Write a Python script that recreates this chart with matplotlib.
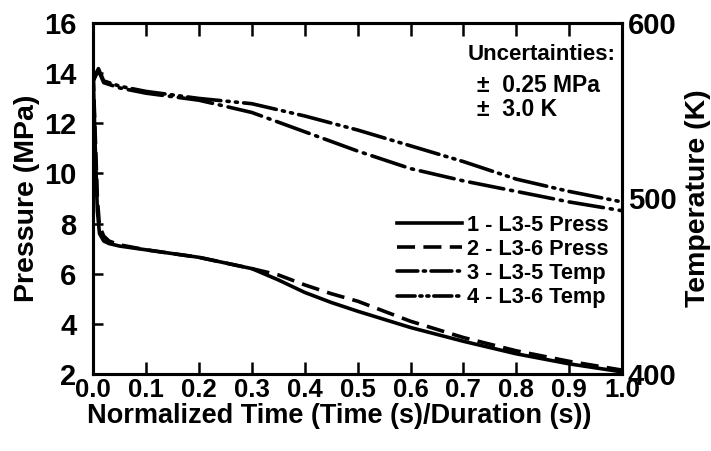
import matplotlib
matplotlib.use("Agg")
import matplotlib.pyplot as plt
from matplotlib.lines import Line2D

# ---- data ----
t_press = [0.0, 0.004, 0.008, 0.012, 0.02, 0.03, 0.05, 0.1, 0.2, 0.3,
           0.35, 0.4, 0.45, 0.5, 0.6, 0.7, 0.8, 0.9, 1.0]
press_l35 = [14.0, 11.0, 8.5, 7.6, 7.3, 7.2, 7.1, 6.95, 6.65, 6.2,
             5.75, 5.25, 4.85, 4.5, 3.85, 3.3, 2.8, 2.4, 2.08]
press_l36 = [14.0, 11.5, 9.0, 7.9, 7.5, 7.3, 7.15, 6.95, 6.65, 6.2,
             5.95, 5.55, 5.2, 4.9, 4.1, 3.45, 2.92, 2.5, 2.15]

t_temp = [0.0, 0.005, 0.01, 0.02, 0.05, 0.1, 0.2, 0.3, 0.4, 0.5,
          0.6, 0.7, 0.8, 0.9, 1.0]
temp_l35 = [567, 570, 573, 566, 563, 560, 556, 549, 538, 527,
            517, 510, 504, 498, 493]
temp_l36 = [567, 571, 574, 567, 564, 561, 557, 554, 547, 539,
            530, 521, 511, 504, 498]

x_ticks = [0.0, 0.1, 0.2, 0.3, 0.4, 0.5, 0.6, 0.7, 0.8, 0.9, 1.0]
p_ticks = [2, 4, 6, 8, 10, 12, 14, 16]
t_ticks = [400, 500, 600]

labels = ["1 - L3-5 Press", "2 - L3-6 Press", "3 - L3-5 Temp", "4 - L3-6 Temp"]

# ---- style ----
plt.rcParams['font.family'] = ['Liberation Sans', 'DejaVu Sans']
plt.rcParams['font.weight'] = 'bold'
plt.rcParams['lines.scale_dashes'] = False

fig = plt.figure(figsize=(7.11, 4.51), dpi=100)
ax = fig.add_axes([0.131, 0.171, 0.744, 0.778])
ax2 = ax.twinx()

lw = 2.6
d_dash = (13, 6)
d_dashdot = (25, 5, 1.5, 5)
d_dashdotdot = (24, 4.5, 1.5, 4.5, 1.5, 4.5)

ax.plot(t_press, press_l35, color='black', lw=lw, solid_capstyle='round')
ax.plot(t_press, press_l36, color='black', lw=lw, dashes=d_dash)
ax2.plot(t_temp, temp_l35, color='black', lw=lw, dashes=d_dashdot,
         dash_capstyle='round')
ax2.plot(t_temp, temp_l36, color='black', lw=lw, dashes=d_dashdotdot,
         dash_capstyle='round')

ax.set_xlim(0, 1.0)
ax.set_ylim(2, 16)
ax2.set_ylim(400, 600)

ax.set_xticks(x_ticks)
ax.set_xticklabels([f"{v:.1f}" for v in x_ticks])
ax.set_yticks(p_ticks)
ax2.set_yticks(t_ticks)

for a in (ax, ax2):
    for s in a.spines.values():
        s.set_linewidth(2.2)

ax.tick_params(axis='x', direction='in', length=9, width=1.8, top=True,
               labelsize=18.5, pad=3)
ax.tick_params(axis='y', direction='in', length=7, width=1.8, labelsize=21, pad=12)
ax2.tick_params(axis='y', direction='in', length=0, labelsize=21, pad=4)

ax.set_xlabel("Normalized Time (Time (s)/Duration (s))", fontsize=19.5,
              fontweight='bold')
ax.xaxis.set_label_coords(0.465, -0.082)
ax.set_ylabel("Pressure (MPa)", fontsize=20.5, fontweight='bold', labelpad=3)
ax2.set_ylabel("Temperature (K)", fontsize=20.5, fontweight='bold', labelpad=6)

# legend (manual, frameless)
handles = [
    Line2D([], [], color='black', lw=lw),
    Line2D([], [], color='black', lw=lw, dashes=(13, 6)),
    Line2D([], [], color='black', lw=lw, dashes=(15, 4, 1.5, 4), dash_capstyle='round'),
    Line2D([], [], color='black', lw=lw, dashes=(13, 3.5, 1.5, 3.5, 1.5, 3.5),
           dash_capstyle='round'),
]
leg = ax.legend(handles, labels, loc='upper left', bbox_to_anchor=(0.558, 0.479),
                frameon=False, fontsize=15.7, handlelength=3.0, handletextpad=0.2,
                labelspacing=0.15, borderaxespad=0)

ax.text(0.988, 0.91, "Uncertainties:", transform=ax.transAxes, ha='right',
        va='center', fontsize=16, fontweight='bold')
ax.text(0.726, 0.823, "\u00b1  0.25 MPa", transform=ax.transAxes, ha='left',
        va='center', fontsize=16.5, fontweight='bold')
ax.text(0.726, 0.753, "\u00b1  3.0 K", transform=ax.transAxes, ha='left',
        va='center', fontsize=16.5, fontweight='bold')

fig.savefig("out.png", dpi=100)
